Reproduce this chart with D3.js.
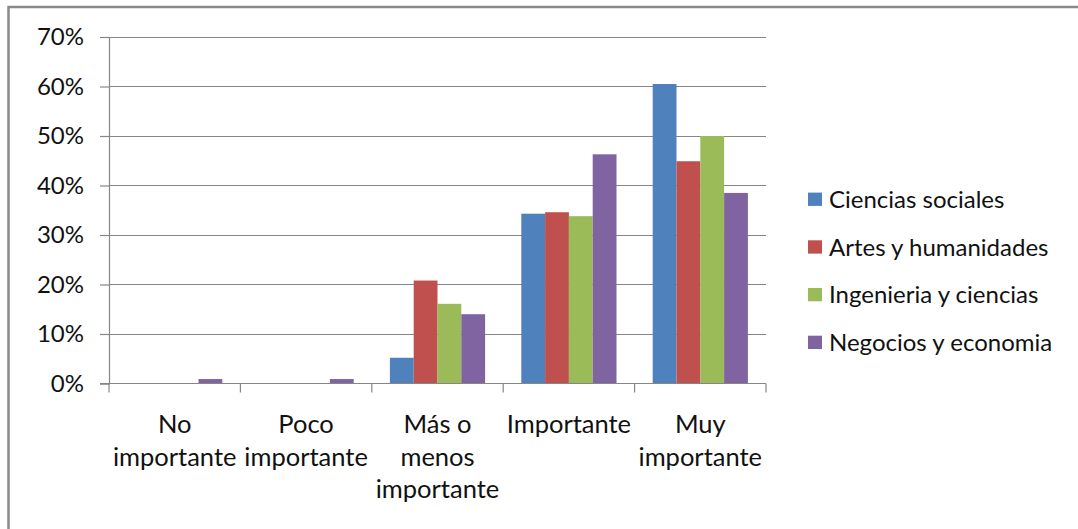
<!DOCTYPE html>
<html>
<head>
<meta charset="utf-8">
<script src="https://cdn.jsdelivr.net/npm/d3@7"></script>
<style>
  html, body { margin: 0; padding: 0; background: #fff; }
  svg { display: block; }
  text { font-family: Lato, "Open Sans", sans-serif; fill: #111; }
</style>
</head>
<body>
<svg id="chart" width="1078" height="529"></svg>
<script>
// Importance ratings by field of study (share of respondents)
const categories = [
  ["No", "importante"],
  ["Poco", "importante"],
  ["Más o", "menos", "importante"],
  ["Importante"],
  ["Muy", "importante"]
];
const series = ["Ciencias sociales", "Artes y humanidades", "Ingenieria y ciencias", "Negocios y economia"];
const cienciasSociales    = [0.000, 0.000, 0.052, 0.343, 0.605];
const artesHumanidades    = [0.000, 0.000, 0.208, 0.346, 0.449];
const ingenieriaCiencias  = [0.000, 0.000, 0.161, 0.338, 0.500];
const negociosEconomia    = [0.009, 0.009, 0.140, 0.463, 0.385];
const yTicks = [0, 0.1, 0.2, 0.3, 0.4, 0.5, 0.6, 0.7];
const colors = ["#4F81BD", "#C0504D", "#9BBB59", "#8064A2"];

const values = [cienciasSociales, artesHumanidades, ingenieriaCiencias, negociosEconomia];
const catKeys = categories.map(c => c.join(" "));

const svg = d3.select("#chart");

// outer chart frame
svg.append("path")
  .attr("d", "M8.5,540 V7 H1090")
  .attr("fill", "none")
  .attr("stroke", "#8a8a8a")
  .attr("stroke-width", 2.5);

const plot = { left: 109, right: 766, top: 37, bottom: 383.5 };

const x0 = d3.scaleBand().domain(catKeys).range([plot.left, plot.right]).paddingInner(0).paddingOuter(0);
const x1 = d3.scaleBand().domain(series).range([0, x0.bandwidth()]).paddingInner(0).paddingOuter(0.76);
const y = d3.scaleLinear().domain([0, 0.7]).range([plot.bottom, plot.top]);

// horizontal gridlines
svg.append("g")
  .selectAll("line")
  .data(yTicks.filter(t => t > 0))
  .join("line")
  .attr("x1", plot.left).attr("x2", plot.right)
  .attr("y1", d => Math.round(y(d)) + 0.5).attr("y2", d => Math.round(y(d)) + 0.5)
  .attr("stroke", "#868686").attr("stroke-width", 1.2);

// y axis
const yAxis = svg.append("g")
  .attr("transform", `translate(${plot.left},0)`)
  .call(d3.axisLeft(y).tickValues(yTicks).tickFormat(d3.format(".0%")).tickSize(9).tickPadding(16));
yAxis.select(".domain").attr("stroke", "#868686").attr("stroke-width", 1.2);
yAxis.selectAll(".tick line").attr("stroke", "#868686").attr("stroke-width", 1.2);
yAxis.selectAll(".tick text")
  .attr("font-size", 24)
  .attr("font-family", "Lato, sans-serif")
  .attr("fill", "#111");

// bars
const groups = svg.append("g")
  .selectAll("g")
  .data(catKeys)
  .join("g")
  .attr("transform", d => `translate(${x0(d)},0)`);

groups.selectAll("rect")
  .data((d, i) => series.map((s, j) => ({ s, j, v: values[j][i] })))
  .join("rect")
  .attr("x", d => x1(d.s))
  .attr("width", x1.bandwidth())
  .attr("y", d => y(d.v))
  .attr("height", d => y(0) - y(d.v))
  .attr("fill", d => colors[d.j]);

// x axis
const xAxis = svg.append("g")
  .attr("transform", `translate(0,${plot.bottom})`);
xAxis.append("line")
  .attr("x1", plot.left - 9).attr("x2", plot.right)
  .attr("y1", 0).attr("y2", 0)
  .attr("stroke", "#868686").attr("stroke-width", 1.2);
const xTickPos = catKeys.map(k => x0(k)).concat([plot.right]);
xAxis.selectAll("line.tk")
  .data(xTickPos)
  .join("line")
  .attr("class", "tk")
  .attr("x1", d => d).attr("x2", d => d)
  .attr("y1", 0).attr("y2", 9)
  .attr("stroke", "#868686").attr("stroke-width", 1.2);

const xLabels = svg.append("g")
  .selectAll("text")
  .data(categories)
  .join("text")
  .attr("text-anchor", "middle")
  .attr("font-size", 25.5)
  .attr("x", (d, i) => x0(catKeys[i]) + x0.bandwidth() / 2)
  .attr("y", 433);
xLabels.selectAll("tspan")
  .data((d, i) => d.map(line => ({ line, cx: x0(catKeys[i]) + x0.bandwidth() / 2 })))
  .join("tspan")
  .attr("x", d => d.cx)
  .attr("dy", (d, k) => k === 0 ? 0 : 32.5)
  .text(d => d.line);

// legend
const legend = svg.append("g")
  .selectAll("g")
  .data(series)
  .join("g")
  .attr("transform", (d, i) => `translate(808,${199.3 + i * 47.7})`);
legend.append("rect")
  .attr("x", 0).attr("y", -6.7)
  .attr("width", 14).attr("height", 13.3)
  .attr("fill", (d, i) => colors[i]);
legend.append("text")
  .attr("x", 21)
  .attr("y", 8.5)
  .attr("font-size", 24)
  .text(d => d);
</script>
</body>
</html>
